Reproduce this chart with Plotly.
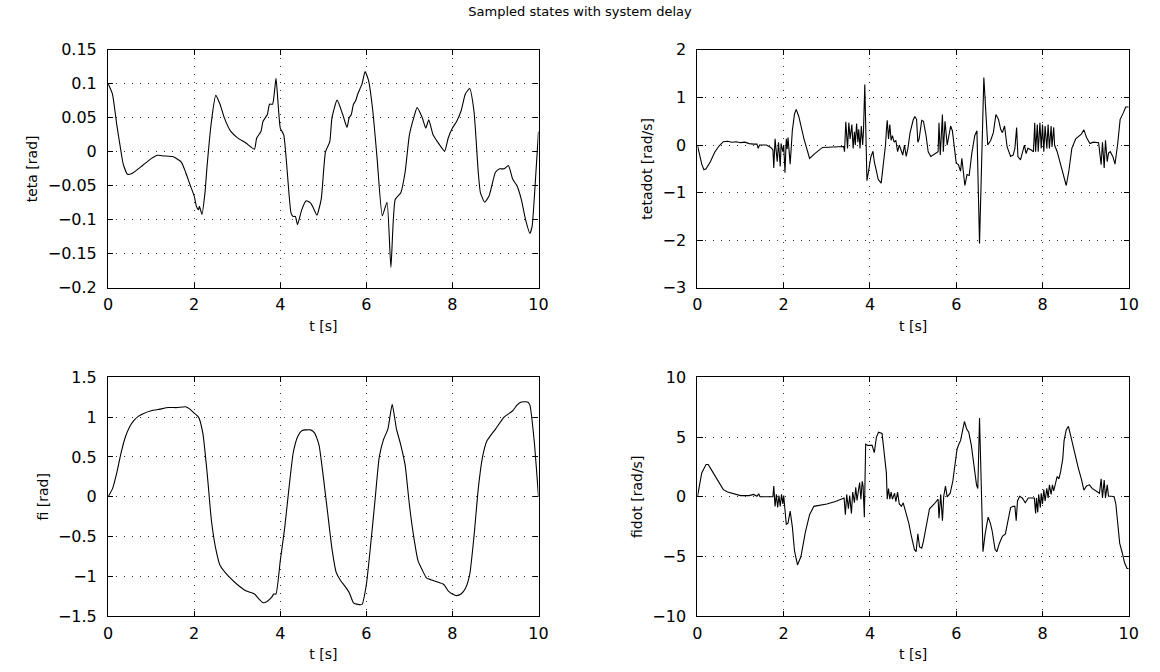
import plotly.graph_objects as go

# ---------------- data ----------------
t_teta = [0, 0.1, 0.2, 0.3, 0.35, 0.45, 0.55, 0.8, 1.0, 1.15, 1.3, 1.5, 1.7, 1.8, 1.9, 2.0, 2.05, 2.1, 2.12, 2.18,
          2.25, 2.3, 2.4, 2.5, 2.6, 2.7, 2.85, 3.0, 3.2, 3.4, 3.45, 3.55, 3.6, 3.7, 3.75, 3.82, 3.9, 3.95, 4.0, 4.08,
          4.15, 4.25, 4.3, 4.35, 4.4, 4.5, 4.6, 4.7, 4.75, 4.85, 4.95, 5.05, 5.15, 5.2, 5.32, 5.45, 5.55, 5.6, 5.65,
          5.7, 5.75, 5.8, 5.9, 5.97, 6.05, 6.15, 6.25, 6.37, 6.48, 6.57, 6.67, 6.8, 6.9, 7.0, 7.1, 7.18, 7.3, 7.38,
          7.45, 7.55, 7.65, 7.82, 7.9, 8.0, 8.1, 8.2, 8.3, 8.4, 8.5, 8.6, 8.65, 8.75, 8.85, 9.0, 9.1, 9.2, 9.3, 9.4,
          9.5, 9.6, 9.7, 9.8, 9.85, 9.95, 10.0]
teta = [0.100, 0.085, 0.040, 0.000, -0.018, -0.033, -0.032, -0.020, -0.010, -0.005, -0.006, -0.007, -0.015, -0.030,
        -0.048, -0.065, -0.080, -0.085, -0.080, -0.092, -0.060, -0.020, 0.045, 0.083, 0.070, 0.050, 0.030, 0.021,
        0.013, 0.004, 0.020, 0.030, 0.045, 0.055, 0.070, 0.070, 0.108, 0.070, 0.035, 0.025, -0.020, -0.090, -0.095,
        -0.095, -0.107, -0.085, -0.072, -0.075, -0.080, -0.093, -0.070, 0.000, 0.015, 0.050, 0.076, 0.055, 0.036,
        0.050, 0.055, 0.070, 0.075, 0.085, 0.100, 0.118, 0.105, 0.060, -0.010, -0.094, -0.074, -0.170, -0.070,
        -0.060, -0.030, 0.025, 0.050, 0.065, 0.050, 0.035, 0.047, 0.025, 0.015, 0.001, 0.020, 0.035, 0.045, 0.060,
        0.085, 0.093, 0.060, -0.030, -0.060, -0.074, -0.065, -0.030, -0.025, -0.025, -0.020, -0.040, -0.050, -0.070,
        -0.100, -0.120, -0.110, -0.020, 0.030]

t_tetadot = [0, 0.05, 0.1, 0.15, 0.2, 0.3, 0.4, 0.5, 0.6, 0.7, 0.8, 0.9, 1.0, 1.1, 1.2, 1.3, 1.38, 1.41, 1.44, 1.6,
             1.7, 1.75, 1.77, 1.80, 1.85, 1.88, 1.92, 1.94, 1.98, 2.0, 2.03, 2.06, 2.08, 2.1, 2.15, 2.2, 2.25, 2.29,
             2.35, 2.47, 2.6, 2.72, 2.9, 3.15, 3.39, 3.41, 3.44, 3.48, 3.51, 3.54, 3.58, 3.61, 3.64, 3.66, 3.69, 3.72,
             3.74, 3.77, 3.8, 3.83, 3.85, 3.88, 3.93, 3.98, 4.02, 4.07, 4.1, 4.15, 4.19, 4.26, 4.3, 4.36, 4.38, 4.4,
             4.43, 4.46, 4.49, 4.52, 4.56, 4.6, 4.64, 4.68, 4.76, 4.8, 4.84, 4.88, 4.93, 5.0, 5.04, 5.08, 5.11, 5.14,
             5.2, 5.24, 5.3, 5.35, 5.41, 5.5, 5.58, 5.6, 5.63, 5.68, 5.7, 5.74, 5.79, 5.83, 5.87, 5.91, 5.95, 6.0,
             6.05, 6.1, 6.13, 6.2, 6.25, 6.3, 6.36, 6.43, 6.48, 6.54, 6.64, 6.7, 6.73, 6.8, 6.86, 6.92, 6.98, 7.03,
             7.07, 7.12, 7.18, 7.26, 7.32, 7.36, 7.4, 7.43, 7.49, 7.54, 7.58, 7.62, 7.66, 7.73, 7.79, 7.82, 7.84,
             7.88, 7.9, 7.94, 7.97, 8.0, 8.03, 8.06, 8.1, 8.13, 8.16, 8.2, 8.22, 8.26, 8.28, 8.34, 8.42, 8.48, 8.55,
             8.61, 8.68, 8.77, 8.9, 8.96, 9.02, 9.1, 9.18, 9.3, 9.36, 9.39, 9.43, 9.46, 9.5, 9.53, 9.57, 9.63, 9.68,
             9.74, 9.8, 9.87, 9.93, 10.0]
tetadot = [0, -0.2, -0.4, -0.52, -0.5, -0.35, -0.15, -0.02, 0.07, 0.08, 0.06, 0.07, 0.05, 0.06, 0.03, 0.02, 0.02,
           -0.07, 0.0, 0.0, -0.05, -0.1, -0.48, 0.13, -0.35, 0.06, -0.45, 0.03, -0.14, 0.0, -0.58, 0.13, -0.08, 0.16,
           -0.4, 0.3, 0.65, 0.75, 0.6, 0.13, -0.28, -0.18, -0.05, -0.04, -0.03, -0.14, 0.49, -0.07, 0.47, 0.13, 0.43,
           -0.07, 0.28, 0.0, 0.45, 0.06, 0.33, -0.07, 0.4, 0.0, 0.3, 1.27, -0.75, -0.48, -0.25, -0.13, -0.35, -0.55,
           -0.72, -0.8, -0.48, 0.0, 0.3, 0.52, 0.13, 0.43, 0.1, 0.2, 0.06, 0.1, -0.14, 0.0, -0.21, 0.0, -0.24, -0.07,
           0.26, 0.52, 0.6, 0.54, 0.06, 0.13, 0.52, 0.5, 0.2, -0.14, -0.24, -0.18, -0.14, 0.47, -0.21, 0.64, -0.14,
           0.5, 0.0, 0.2, 0.4, 0.3, 0.0, -0.38, -0.41, -0.55, -0.28, -0.85, -0.62, -0.64, -0.18, 0.2, 0.3, -2.07,
           1.42, 0.47, 0.0, 0.1, 0.26, 0.64, 0.54, 0.33, 0.26, 0.4, -0.04, -0.24, -0.21, -0.07, 0.37, -0.24, -0.31,
           -0.14, 0.0, -0.18, -0.07, -0.1, -0.14, 0.47, -0.14, 0.43, -0.14, 0.47, -0.07, 0.43, -0.14, 0.4, -0.07,
           0.43, -0.07, 0.4, -0.04, 0.37, 0.0, -0.14, -0.41, -0.62, -0.85, -0.55, -0.07, 0.13, 0.23, 0.32, 0.16,
           0.03, 0.06, 0.05, -0.41, 0.06, -0.48, 0.1, -0.35, -0.17, -0.14, -0.24, -0.4, 0.0, 0.54, 0.67, 0.8, 0.8]

t_fi = [0, 0.1, 0.2, 0.3, 0.4, 0.5, 0.6, 0.7, 0.8, 1.0, 1.2, 1.4, 1.6, 1.8, 1.9, 2.0, 2.1, 2.2, 2.3, 2.4, 2.5, 2.6,
        2.8, 3.0, 3.2, 3.4, 3.5, 3.6, 3.7, 3.8, 3.85, 3.9, 4.0, 4.1, 4.2, 4.3, 4.4, 4.5, 4.7, 4.8, 4.9, 5.0, 5.1,
        5.2, 5.3, 5.4, 5.5, 5.6, 5.7, 5.8, 5.9, 6.0, 6.1, 6.2, 6.3, 6.4, 6.5, 6.6, 6.7, 6.8, 6.9, 7.0, 7.1, 7.2,
        7.3, 7.4, 7.5, 7.6, 7.8, 7.9, 8.0, 8.1, 8.2, 8.3, 8.4, 8.5, 8.6, 8.7, 8.8, 9.0, 9.2, 9.4, 9.5, 9.6, 9.75,
        9.8, 9.9, 10.0]
fi = [0.0, 0.1, 0.3, 0.55, 0.75, 0.88, 0.96, 1.01, 1.04, 1.08, 1.10, 1.12, 1.12, 1.13, 1.10, 1.05, 1.0, 0.8, 0.3,
      -0.3, -0.65, -0.86, -1.0, -1.1, -1.18, -1.22, -1.28, -1.33, -1.31, -1.26, -1.22, -1.22, -0.8, -0.4, 0.1,
      0.55, 0.75, 0.83, 0.84, 0.8, 0.65, 0.25, -0.2, -0.65, -0.95, -1.05, -1.12, -1.2, -1.33, -1.35, -1.35, -1.1,
      -0.6, -0.05, 0.5, 0.72, 0.85, 1.16, 0.85, 0.65, 0.4, -0.1, -0.5, -0.8, -0.92, -1.02, -1.04, -1.06, -1.1,
      -1.18, -1.22, -1.24, -1.22, -1.15, -0.98, -0.5, 0.1, 0.5, 0.7, 0.85, 1.0, 1.08, 1.15, 1.19, 1.19, 1.15, 0.7,
      0.0]

t_fidot = [0, 0.05, 0.1, 0.2, 0.25, 0.3, 0.4, 0.5, 0.6, 0.7, 0.8, 1.0, 1.2, 1.3, 1.38, 1.42, 1.45, 1.75, 1.77, 1.8,
           1.83, 1.86, 1.89, 1.92, 1.95, 1.98, 2.0, 2.03, 2.06, 2.1, 2.15, 2.2, 2.25, 2.32, 2.4, 2.5, 2.6, 2.7, 3.0,
           3.2, 3.4, 3.43, 3.46, 3.5, 3.53, 3.57, 3.6, 3.64, 3.67, 3.7, 3.73, 3.76, 3.79, 3.82, 3.84, 3.87, 3.9,
           3.95, 4.05, 4.1, 4.15, 4.2, 4.28, 4.34, 4.38, 4.4, 4.43, 4.46, 4.49, 4.52, 4.57, 4.6, 4.64, 4.68, 4.73,
           4.77, 4.83, 4.9, 4.96, 5.03, 5.07, 5.11, 5.15, 5.2, 5.24, 5.32, 5.38, 5.49, 5.58, 5.6, 5.64, 5.68, 5.71,
           5.75, 5.79, 5.86, 5.92, 5.96, 6.02, 6.06, 6.1, 6.15, 6.19, 6.24, 6.29, 6.35, 6.41, 6.47, 6.5, 6.54, 6.62,
           6.67, 6.74, 6.79, 6.83, 6.9, 6.94, 7.0, 7.07, 7.14, 7.2, 7.26, 7.32, 7.36, 7.39, 7.42, 7.47, 7.53, 7.6,
           7.67, 7.75, 7.81, 7.84, 7.86, 7.89, 7.91, 7.95, 7.97, 8.0, 8.03, 8.06, 8.1, 8.13, 8.16, 8.2, 8.23, 8.26,
           8.34, 8.38, 8.42, 8.47, 8.5, 8.55, 8.6, 8.64, 8.7, 8.77, 8.83, 8.9, 8.96, 9.02, 9.09, 9.15, 9.23, 9.32,
           9.36, 9.39, 9.43, 9.46, 9.5, 9.53, 9.6, 9.66, 9.7, 9.74, 9.79, 9.85, 9.9, 9.96, 10.0]
fidot = [0, 1.2, 2.0, 2.7, 2.7, 2.4, 1.8, 1.1, 0.6, 0.4, 0.3, 0.1, 0.1, 0.2, 0.05, 0.25, 0.0, 0.0, 0.9, -0.8, 0.2,
         -0.9, 0.1, -0.8, 0.2, -0.6, 0.1, -1.0, -2.3, -2.2, -1.2, -2.5, -4.5, -5.7, -5.0, -3.0, -1.5, -0.8, -0.6,
         -0.4, -0.1, -1.5, 0.2, -1.0, 0.1, -1.4, 0.4, -0.5, 0.8, -0.3, 0.5, 1.2, -0.2, 1.3, 0.9, -1.7, 4.4, 4.3,
         4.3, 3.7, 5.0, 5.4, 5.3, 2.9, 2.0, -0.2, 0.7, -0.2, 0.4, -0.2, 0.3, -0.4, 0.4, -0.6, -0.8, -0.5, -1.2,
         -2.2, -3.3, -4.4, -4.6, -3.1, -4.2, -4.3, -3.7, -2.2, -1.0, -0.6, -0.2, -1.8, 0.2, -2.0, 0.05, 0.9, 0.0,
         0.3, 1.3, 2.4, 4.0, 4.4, 4.7, 5.6, 6.3, 5.7, 5.4, 4.3, 2.4, 1.0, 0.7, 6.6, -4.6, -3.1, -1.7, -2.2, -2.8,
         -4.4, -4.6, -3.9, -3.3, -3.1, -2.0, -0.9, -0.8, -0.8, -2.0, -0.35, 0.05, -0.1, -0.5, -0.1, -0.1, -0.1,
         -1.4, -0.1, -1.3, 0.2, -0.9, 0.3, -0.6, 0.6, -0.35, 0.7, -0.1, 1.0, 0.2, 1.0, 0.5, 1.7, 1.5, 2.1, 3.2,
         4.7, 5.6, 5.9, 5.3, 4.3, 3.2, 2.4, 1.5, 0.55, 0.9, 1.0, 0.7, 0.5, 0.3, 1.5, -0.1, 1.4, -0.1, 1.0, 0.05,
         0.05, 0.0, -0.6, -2.2, -3.9, -4.7, -5.5, -6.0, -6.0]

y_titles = ["teta [rad]", "tetadot [rad/s]", "fi [rad]", "fidot [rad/s]"]
x_title = "t [s]"
y_ranges = [[-0.2, 0.15], [-3, 2], [-1.5, 1.5], [-10, 10]]
y_dticks = [0.05, 1, 0.5, 5]
chart_title = "Sampled states with system delay"

# ---------------- figure ----------------
W, H = 1160, 672
FONT = "DejaVu Sans, Liberation Sans, Arial, sans-serif"

fig = go.Figure()
series = [(t_teta, teta, "spline"), (t_tetadot, tetadot, "linear"),
          (t_fi, fi, "spline"), (t_fidot, fidot, "linear")]
for i, (tx, vy, shape) in enumerate(series):
    suf = "" if i == 0 else str(i + 1)
    line = dict(color="black", width=1.1, shape=shape)
    if shape == "spline":
        line["smoothing"] = 0.5
    fig.add_trace(go.Scatter(x=tx, y=vy, mode="lines", line=line,
                             xaxis="x" + suf, yaxis="y" + suf, showlegend=False, hoverinfo="skip"))

x_doms = [[104.5 / W, 540.5 / W], [701.5 / W, 1138.5 / W]]
y_doms = [[1 - 287 / H, 1 - 42 / H], [1 - 625 / H, 1 - 379 / H]]

layout = dict(
    width=W, height=H, margin=dict(l=0, r=0, t=0, b=0),
    paper_bgcolor="white", plot_bgcolor="white",
    font=dict(family=FONT, color="black", size=16),
    showlegend=False,
    title=dict(text=chart_title, x=0.5, xanchor="center", y=1 - 11 / H, yanchor="middle",
               yref="container", font=dict(size=13, family=FONT, color="black")),
)

axis_common = dict(showline=True, linecolor="black", linewidth=1.3, mirror="ticks",
                   ticks="inside", ticklen=5, tickwidth=1, tickcolor="black",
                   showgrid=True, gridcolor="#333333", gridwidth=1, griddash="1px,7px",
                   zeroline=False, tickfont=dict(size=16, family=FONT, color="black"))

for i in range(4):
    suf = "" if i == 0 else str(i + 1)
    col, row = i % 2, i // 2
    xa = dict(axis_common, domain=x_doms[col], range=[0, 10], tick0=0, dtick=2,
              anchor="y" + suf, ticklabelstandoff=2,
              title=dict(text=x_title, standoff=7, font=dict(size=14, family=FONT, color="black")))
    ya = dict(axis_common, domain=y_doms[row], range=y_ranges[i], tick0=0, dtick=y_dticks[i],
              anchor="x" + suf, ticklabelstandoff=7,
              title=dict(text=y_titles[i], standoff=6, font=dict(size=14, family=FONT, color="black")))
    layout["xaxis" + suf] = xa
    layout["yaxis" + suf] = ya

fig.update_layout(**layout)
fig.write_html("out.html")
